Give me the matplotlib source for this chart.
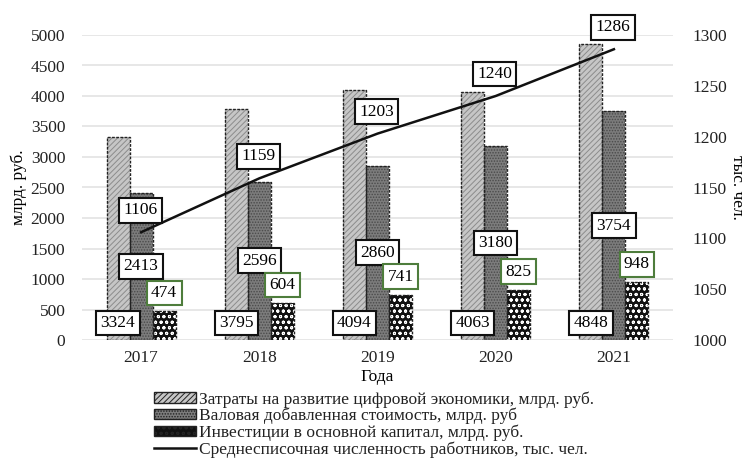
import matplotlib
matplotlib.use("Agg")
import matplotlib.pyplot as plt
import numpy as np
from matplotlib.patches import Patch
from matplotlib.lines import Line2D

plt.rcParams['font.family'] = ['Liberation Serif', 'DejaVu Serif']
plt.rcParams['hatch.linewidth'] = 0.7

years = ['2017', '2018', '2019', '2020', '2021']
costs = [3324, 3795, 4094, 4063, 4848]
gva = [2413, 2596, 2860, 3180, 3754]
invest = [474, 604, 741, 825, 948]
workers = [1106, 1159, 1203, 1240, 1286]

names = ['Затраты на развитие цифровой экономики, млрд. руб.',
         'Валовая добавленная стоимость, млрд. руб',
         'Инвестиции в основной капитал, млрд. руб.',
         'Среднесписочная численность работников, тыс. чел.']

fig = plt.figure(figsize=(7.46, 4.65), dpi=100)
ax = fig.add_axes([82/746, 1-340/465, (673-82)/746, 305/465])
ax2 = ax.twinx()

x = np.arange(len(years))
w = 0.195
styles = [
    dict(face='#c6c6c6', hatch='//////', hcol='#8c8c8c'),
    dict(face='#7c7c7c', hatch='......', hcol='#4a4a4a'),
    dict(face='#111111', hatch='ooo', hcol='#ffffff'),
]
series = [costs, gva, invest]
for i, (vals, st) in enumerate(zip(series, styles)):
    xs = x + (i - 1) * w
    ax.bar(xs, vals, w, color=st['face'], hatch=st['hatch'], edgecolor=st['hcol'], linewidth=0, zorder=2)
    ax.bar(xs, vals, w, fill=False, edgecolor='#222222', linewidth=1.0, linestyle=(0, (2, 1)), zorder=3)

ax.set_xlim(-0.5, 4.5)
ax.set_ylim(0, 5000)
ax.set_yticks(np.arange(0, 5001, 500))
ax2.set_ylim(1000, 1300)
ax2.set_yticks(np.arange(1000, 1301, 50))
ax.set_xticks(x)
ax.set_xticklabels(years)
ax.yaxis.grid(True, color='#e3e3e3', lw=1.2)
ax.set_axisbelow(True)

fs = 12.5
box_k = dict(boxstyle='square,pad=0.25', fc='white', ec='#111111', lw=1.5)
box_g = dict(boxstyle='square,pad=0.25', fc='white', ec='#4e7d3c', lw=1.5)

ax2.plot(x, workers, color='#111111', lw=1.8, zorder=2)
for j in range(len(years)):
    ax2.annotate(str(costs[j]), (x[j] - w, 0), xycoords=ax.transData, xytext=(0, 17), textcoords='offset pixels',
                 ha='center', va='center', fontsize=fs, bbox=box_k, zorder=6)
    ax2.annotate(str(gva[j]), (x[j], gva[j] / 2), xycoords=ax.transData,
                 ha='center', va='center', fontsize=fs, bbox=box_k, zorder=6)
    ax2.annotate(str(invest[j]), (x[j] + w, invest[j]), xycoords=ax.transData, xytext=(0, 18),
                 textcoords='offset pixels', ha='center', va='center', fontsize=fs, bbox=box_g, zorder=6)
    ax2.annotate(str(workers[j]), (x[j], workers[j]), xytext=(-1, 22), textcoords='offset pixels',
                 ha='center', va='center', fontsize=fs, bbox=box_k, zorder=6)

for a in (ax, ax2):
    for s in a.spines.values():
        s.set_visible(False)
    a.tick_params(length=0, labelsize=fs, colors='#222222')
ax.tick_params(axis='y', pad=12)
ax2.tick_params(axis='y', pad=14)
ax.tick_params(axis='x', pad=7)

ax.set_ylabel('млрд. руб.', fontsize=fs, labelpad=3)
ax2.set_ylabel('тыс. чел.', fontsize=fs, rotation=270, labelpad=13)
ax.set_xlabel('Года', fontsize=fs, labelpad=2)

handles = []
for st in styles:
    handles.append(Patch(facecolor=st['face'], hatch=st['hatch'], edgecolor='#222222', linewidth=1))
handles.append(Line2D([0], [0], color='#111111', lw=1.8))
leg = fig.legend(handles, names, loc='upper left', bbox_to_anchor=(154/746, 1-391/465),
                 frameon=False, fontsize=fs, handlelength=2.4, handleheight=0.55,
                 labelspacing=0.02, handletextpad=0.2, borderpad=0, borderaxespad=0)
for t in leg.get_texts():
    t.set_color('#222222')

fig.savefig('out.png', dpi=100)
